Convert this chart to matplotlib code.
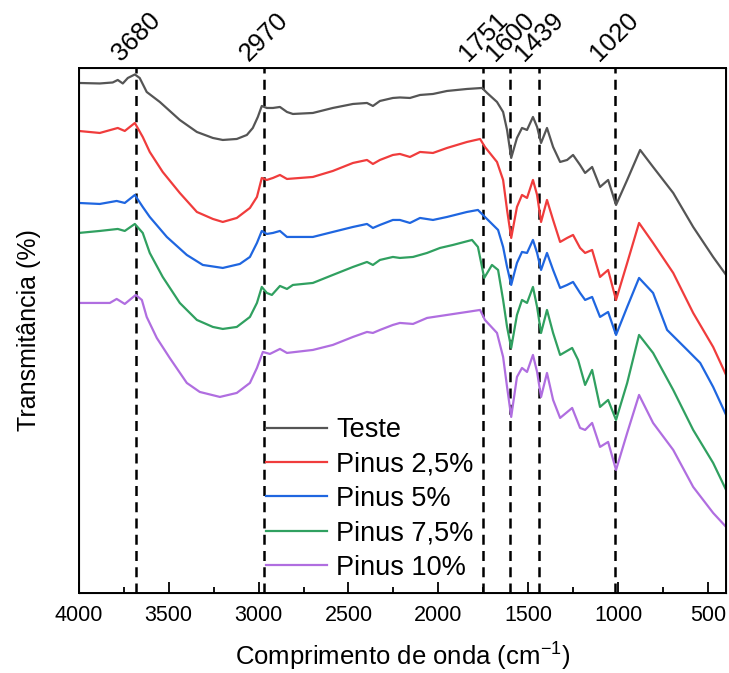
import matplotlib
matplotlib.use('Agg')
import matplotlib.pyplot as plt
from matplotlib.ticker import MultipleLocator

plt.rcParams['font.family'] = ['Liberation Sans', 'DejaVu Sans']
plt.rcParams['mathtext.default'] = 'regular'

# wavenumber (cm-1) / transmittance (a.u., offset curves)
teste_wn = [4000, 3883, 3811, 3783, 3755, 3727, 3688, 3661, 3622, 3549, 3438, 3343, 3254, 3199,
            3121, 3065, 3032, 3004, 2982, 2954, 2920, 2881, 2842, 2809, 2698, 2587, 2475, 2397,
            2364, 2325, 2253, 2214, 2158, 2102, 2030, 1952, 1841, 1757, 1729, 1674, 1640, 1618,
            1595, 1563, 1535, 1507, 1474, 1451, 1429, 1396, 1362, 1323, 1284, 1251, 1212, 1184,
            1145, 1101, 1056, 1012, 950, 878, 806, 694, 583, 472, 400]
teste_t = [102.0, 101.9, 102.1, 102.6, 101.9, 103.0, 103.7, 103.0, 100.2, 98.2, 94.6, 92.2, 91.0, 90.6,
           90.8, 91.6, 93.0, 95.2, 97.4, 97.0, 97.0, 97.2, 96.2, 95.8, 96.0, 97.0, 97.8, 98.0,
           97.4, 98.4, 99.0, 99.1, 99.0, 99.6, 99.8, 100.4, 100.8, 101.0, 100.0, 98.2, 96.2, 92.6,
           87.0, 91.0, 93.0, 92.6, 95.2, 93.2, 90.0, 93.0, 89.2, 86.2, 86.6, 87.6, 85.6, 84.0,
           85.2, 81.2, 82.6, 77.6, 82.6, 88.6, 85.2, 80.0, 73.2, 67.2, 63.6]

p25_wn = [4000, 3883, 3783, 3744, 3688, 3644, 3605, 3533, 3438, 3343, 3254, 3199, 3121, 3048,
          3009, 2982, 2954, 2920, 2881, 2842, 2698, 2587, 2475, 2397, 2364, 2325, 2253, 2214,
          2158, 2102, 2030, 1952, 1841, 1768, 1741, 1674, 1640, 1618, 1595, 1563, 1535, 1507,
          1474, 1451, 1429, 1396, 1362, 1323, 1284, 1251, 1212, 1184, 1145, 1101, 1056, 1012,
          950, 884, 806, 694, 583, 472, 400]
p25_t = [92.4, 92.0, 93.0, 92.4, 94.0, 91.2, 88.2, 84.2, 80.0, 76.2, 74.8, 74.2, 75.0, 77.0,
         79.2, 83.0, 82.6, 83.0, 83.6, 82.8, 83.2, 84.4, 86.0, 86.6, 85.8, 86.6, 87.6, 87.8,
         87.2, 88.2, 88.0, 89.0, 90.2, 90.8, 89.2, 86.2, 82.6, 76.6, 71.0, 77.2, 79.6, 79.0,
         82.6, 79.6, 74.2, 78.6, 74.6, 70.2, 71.0, 71.6, 69.0, 68.0, 68.6, 63.2, 64.6, 58.6,
         66.0, 74.0, 70.0, 64.0, 56.0, 49.2, 43.6]

p5_wn = [4000, 3883, 3789, 3744, 3688, 3644, 3605, 3510, 3399, 3310, 3199, 3104, 3048, 3009,
         2982, 2954, 2920, 2881, 2842, 2698, 2587, 2475, 2397, 2364, 2325, 2253, 2214, 2158,
         2102, 2030, 1952, 1841, 1780, 1741, 1668, 1640, 1618, 1595, 1563, 1535, 1507, 1474,
         1451, 1429, 1396, 1362, 1323, 1284, 1251, 1212, 1184, 1145, 1101, 1056, 1012, 950,
         884, 806, 728, 616, 544, 472, 400]
p5_t = [78.0, 77.8, 78.4, 78.0, 79.6, 77.2, 75.2, 71.2, 67.6, 65.6, 65.0, 65.8, 67.2, 70.0,
        72.4, 71.8, 72.0, 72.4, 71.2, 71.2, 72.2, 73.2, 73.8, 73.0, 73.6, 74.6, 74.6, 74.0,
        75.0, 74.6, 75.2, 76.2, 76.6, 75.2, 72.6, 69.2, 65.2, 61.6, 66.0, 68.2, 68.0, 70.6,
        68.0, 64.6, 68.0, 64.6, 61.0, 61.6, 62.2, 60.0, 58.6, 59.2, 55.2, 56.2, 51.6, 57.2,
        63.0, 60.0, 52.6, 48.6, 46.0, 41.2, 35.6]

p75_wn = [4000, 3883, 3783, 3744, 3688, 3644, 3605, 3533, 3438, 3343, 3254, 3199, 3121, 3048,
          3009, 2982, 2954, 2926, 2881, 2842, 2809, 2698, 2587, 2475, 2397, 2364, 2325, 2253,
          2214, 2141, 2063, 1991, 1919, 1813, 1780, 1745, 1702, 1668, 1640, 1618, 1595, 1563,
          1535, 1507, 1474, 1451, 1429, 1396, 1362, 1323, 1256, 1223, 1184, 1145, 1101, 1056,
          1012, 950, 884, 806, 694, 583, 472, 400]
p75_t = [72.0, 72.4, 72.8, 72.4, 73.8, 72.0, 68.0, 63.2, 58.0, 54.6, 53.2, 52.8, 53.2, 55.2,
         58.0, 61.2, 60.0, 59.6, 61.4, 60.8, 61.6, 62.0, 63.6, 65.2, 66.2, 65.6, 66.6, 67.2,
         67.0, 67.2, 68.0, 69.0, 69.6, 70.6, 69.2, 63.0, 65.6, 64.6, 58.6, 53.2, 49.0, 55.6,
         58.6, 58.0, 61.2, 57.2, 52.0, 56.6, 52.0, 47.6, 49.0, 46.6, 41.6, 44.6, 37.2, 38.6,
         34.6, 42.0, 51.6, 48.0, 40.6, 32.6, 26.0, 20.6]

p10_wn = [4000, 3900, 3827, 3789, 3744, 3683, 3649, 3622, 3566, 3494, 3399, 3327, 3215, 3121,
          3048, 3009, 2976, 2937, 2881, 2842, 2698, 2587, 2475, 2397, 2364, 2325, 2253, 2214,
          2141, 2063, 1952, 1841, 1768, 1741, 1674, 1640, 1618, 1595, 1563, 1535, 1507, 1474,
          1451, 1429, 1396, 1362, 1323, 1256, 1212, 1184, 1145, 1101, 1056, 1012, 950, 884,
          806, 694, 583, 472, 400]
p10_t = [58.0, 58.0, 58.0, 58.8, 57.8, 59.6, 58.6, 55.2, 51.0, 47.0, 42.0, 40.2, 39.2, 40.0,
         42.0, 45.0, 48.2, 47.8, 48.8, 48.0, 48.6, 49.6, 51.2, 52.2, 52.0, 52.6, 53.6, 54.0,
         53.8, 55.0, 55.6, 56.2, 56.6, 54.6, 52.0, 47.2, 41.2, 35.2, 43.2, 45.0, 44.2, 47.6,
         44.2, 39.2, 44.0, 38.6, 35.0, 37.0, 33.0, 32.6, 34.0, 29.2, 30.2, 24.6, 32.0, 39.6,
         34.0, 28.6, 21.2, 16.0, 13.2]

peaks = [3680, 2970, 1751, 1600, 1439, 1020]

series = [
    (teste_wn, teste_t, 'Teste', '#555555'),
    (p25_wn, p25_t, 'Pinus 2,5%', '#f03c3c'),
    (p5_wn, p5_t, 'Pinus 5%', '#1f66e0'),
    (p75_wn, p75_t, 'Pinus 7,5%', '#30a060'),
    (p10_wn, p10_t, 'Pinus 10%', '#b06ee0'),
]

fig = plt.figure(figsize=(7.29, 6.73), dpi=100)
ax = fig.add_axes([0.108, 0.119, 0.888, 0.780])

for wn, t, label, color in series:
    ax.plot(wn, t, '-', color=color, lw=1.6, label=label)

for p in peaks:
    ax.axvline(p, color='black', lw=1.8, linestyle=(0, (4, 2.5)), zorder=0)

ax.set_xlim(4000, 400)
ax.set_ylim(0, 105)
ax.xaxis.set_major_locator(MultipleLocator(500))
ax.xaxis.set_minor_locator(MultipleLocator(250))
ax.tick_params(axis='x', which='major', direction='in', length=8, width=1.3, labelsize=15.5, pad=9)
ax.tick_params(axis='x', which='minor', direction='in', length=4, width=1.3)
ax.set_yticks([])
for s in ax.spines.values():
    s.set_linewidth(1.4)

ax.set_xlabel('Comprimento de onda (cm$^{-1}$)', fontsize=18.5, labelpad=10)
ax.set_ylabel('Transmitância (%)', fontsize=18, labelpad=27)

top = ax.twiny()
top.set_xlim(ax.get_xlim())
top.set_xticks(peaks)
top.set_xticklabels([str(p) for p in peaks], rotation=45, ha='center', fontsize=18.5)
top.tick_params(axis='x', length=0, pad=2)

ax.legend(loc='upper left', bbox_to_anchor=(0.29, 0.335), frameon=False, fontsize=19.5,
          handlelength=2.25, handletextpad=0.33, labelspacing=0.31, borderpad=0, borderaxespad=0)

fig.savefig('out.png', dpi=100)
